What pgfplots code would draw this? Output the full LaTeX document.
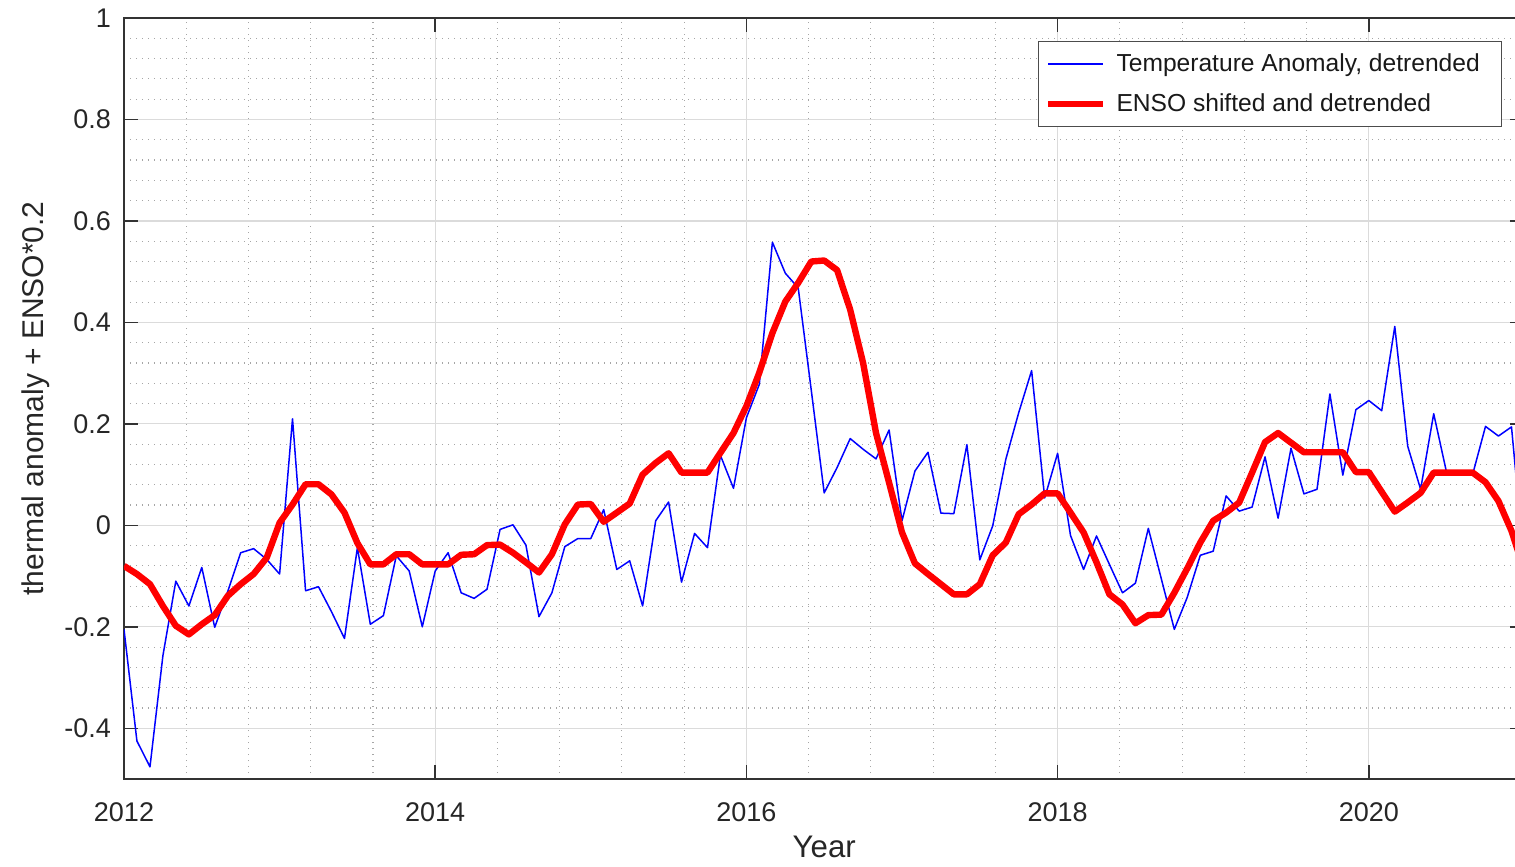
\documentclass[border=0pt]{standalone}
\usepackage{pgfplots}
\pgfplotsset{compat=1.18}
\usepackage{pgfplotstable}
\usepackage{fontspec}
\setmainfont{Liberation Sans}

\pgfplotstableread{
x y
2012.000 -0.205
2012.083 -0.425
2012.167 -0.476
2012.250 -0.257
2012.333 -0.110
2012.417 -0.159
2012.500 -0.083
2012.583 -0.201
2012.667 -0.130
2012.750 -0.054
2012.833 -0.046
2012.917 -0.067
2013.000 -0.096
2013.083 0.210
2013.167 -0.129
2013.250 -0.121
2013.333 -0.170
2013.417 -0.223
2013.500 -0.044
2013.583 -0.195
2013.667 -0.178
2013.750 -0.060
2013.833 -0.090
2013.917 -0.200
2014.000 -0.090
2014.083 -0.054
2014.167 -0.133
2014.250 -0.144
2014.333 -0.126
2014.417 -0.008
2014.500 0.001
2014.583 -0.039
2014.667 -0.180
2014.750 -0.133
2014.833 -0.042
2014.917 -0.026
2015.000 -0.026
2015.083 0.031
2015.167 -0.087
2015.250 -0.070
2015.333 -0.159
2015.417 0.009
2015.500 0.046
2015.583 -0.112
2015.667 -0.016
2015.750 -0.044
2015.833 0.138
2015.917 0.073
2016.000 0.212
2016.083 0.278
2016.167 0.558
2016.250 0.497
2016.333 0.468
2016.417 0.266
2016.500 0.064
2016.583 0.114
2016.667 0.171
2016.750 0.150
2016.833 0.131
2016.917 0.188
2017.000 0.009
2017.083 0.107
2017.167 0.144
2017.250 0.024
2017.333 0.023
2017.417 0.159
2017.500 -0.068
2017.583 -0.001
2017.667 0.130
2017.750 0.222
2017.833 0.305
2017.917 0.054
2018.000 0.142
2018.083 -0.020
2018.167 -0.087
2018.250 -0.021
2018.333 -0.077
2018.417 -0.133
2018.500 -0.114
2018.583 -0.006
2018.667 -0.106
2018.750 -0.205
2018.833 -0.142
2018.917 -0.059
2019.000 -0.051
2019.083 0.058
2019.167 0.028
2019.250 0.036
2019.333 0.135
2019.417 0.014
2019.500 0.152
2019.583 0.062
2019.667 0.071
2019.750 0.259
2019.833 0.099
2019.917 0.228
2020.000 0.246
2020.083 0.226
2020.167 0.392
2020.250 0.156
2020.333 0.071
2020.417 0.220
2020.500 0.104
2020.583 0.104
2020.667 0.100
2020.750 0.195
2020.833 0.176
2020.917 0.194
2021.000 -0.080
}\tempdata

\pgfplotstableread{
x y
2012.000 -0.080
2012.083 -0.096
2012.167 -0.116
2012.250 -0.159
2012.333 -0.198
2012.417 -0.215
2012.500 -0.195
2012.583 -0.177
2012.667 -0.139
2012.750 -0.116
2012.833 -0.096
2012.917 -0.064
2013.000 0.005
2013.083 0.041
2013.167 0.081
2013.250 0.081
2013.333 0.061
2013.417 0.025
2013.500 -0.035
2013.583 -0.077
2013.667 -0.077
2013.750 -0.057
2013.833 -0.057
2013.917 -0.077
2014.000 -0.077
2014.083 -0.077
2014.167 -0.058
2014.250 -0.057
2014.333 -0.039
2014.417 -0.038
2014.500 -0.054
2014.583 -0.073
2014.667 -0.093
2014.750 -0.057
2014.833 0.002
2014.917 0.041
2015.000 0.042
2015.083 0.007
2015.167 0.025
2015.250 0.043
2015.333 0.100
2015.417 0.123
2015.500 0.142
2015.583 0.104
2015.667 0.104
2015.750 0.104
2015.833 0.143
2015.917 0.182
2016.000 0.235
2016.083 0.301
2016.167 0.379
2016.250 0.441
2016.333 0.478
2016.417 0.520
2016.500 0.522
2016.583 0.503
2016.667 0.425
2016.750 0.320
2016.833 0.182
2016.917 0.084
2017.000 -0.014
2017.083 -0.075
2017.167 -0.096
2017.250 -0.116
2017.333 -0.136
2017.417 -0.136
2017.500 -0.116
2017.583 -0.059
2017.667 -0.034
2017.750 0.022
2017.833 0.041
2017.917 0.063
2018.000 0.063
2018.083 0.025
2018.167 -0.014
2018.250 -0.073
2018.333 -0.136
2018.417 -0.156
2018.500 -0.193
2018.583 -0.177
2018.667 -0.176
2018.750 -0.133
2018.833 -0.085
2018.917 -0.034
2019.000 0.009
2019.083 0.025
2019.167 0.045
2019.250 0.104
2019.333 0.164
2019.417 0.182
2019.500 0.163
2019.583 0.144
2019.667 0.144
2019.750 0.144
2019.833 0.144
2019.917 0.105
2020.000 0.105
2020.083 0.066
2020.167 0.027
2020.250 0.045
2020.333 0.064
2020.417 0.104
2020.500 0.104
2020.583 0.104
2020.667 0.104
2020.750 0.085
2020.833 0.048
2020.917 -0.011
2021.000 -0.090
}\ensodata

\begin{document}
\begin{tikzpicture}
\begin{axis}[
  width=700.2pt, height=380.5pt, scale only axis,
  xmin=2012, xmax=2021, ymin=-0.5, ymax=1,
  xtick={2012,2014,2016,2018,2020},
  ytick={-0.4,-0.2,0,0.2,0.4,0.6,0.8,1},
  minor x tick num=4, minor y tick num=4,
  grid=both,
  major grid style={black!14, line width=0.6pt},
  minor grid style={black!35, line width=0.55pt, dash pattern=on 0.55pt off 2.45pt},
  tick align=inside,
  major tick length=7pt, minor tick length=0pt,
  tick style={black!80, line width=0.75pt},
  axis line style={black!80, line width=0.75pt},
  /pgf/number format/assume math mode=true,
  ticklabel style={font=\fontsize{13.5}{16}\selectfont, text=black!85},
  x tick label style={/pgf/number format/1000 sep={}, yshift=-8.5pt},
  y tick label style={xshift=-3pt},
  xlabel={Year},
  ylabel={thermal anomaly + ENSO*0.2},
  label style={text=black!85},
  xlabel style={font=\fontsize{15.6}{18}\selectfont, at={(axis description cs:0.5,0)}, anchor=north, yshift=-25pt},
  ylabel style={font=\fontsize{15}{18}\selectfont, at={(axis description cs:-0.0478,0.5)}, anchor=south},
  legend style={at={(1,1)}, anchor=north east, xshift=-11pt, yshift=-11.5pt,
    draw=black!70, line width=0.6pt, fill=white,
    font=\fontsize{12.3}{14}\selectfont, text=black!90,
    inner xsep=3.5pt, inner ysep=4pt, row sep=5.5pt, cells={anchor=west}},
  legend image code/.code={\draw[#1] (0pt,0pt) -- (27.5pt,0pt); \path (30.5pt,0pt);},
]
\coordinate (sw) at (rel axis cs:0,0);
\coordinate (ne) at (rel axis cs:1,1);
\addplot[blue, line width=0.75pt, line join=round] table[x=x,y=y] {\tempdata};
\addlegendentry{Temperature Anomaly, detrended\kern5.5pt}
\addplot[red, line width=3.2pt, line join=round] table[x=x,y=y] {\ensodata};
\addlegendentry{ENSO shifted and detrended}
\end{axis}
\pgfresetboundingbox
\useasboundingbox ([xshift=-62pt,yshift=-44pt]sw) rectangle ([xshift=695.5pt,yshift=9pt]sw |- ne);
\end{tikzpicture}
\end{document}
